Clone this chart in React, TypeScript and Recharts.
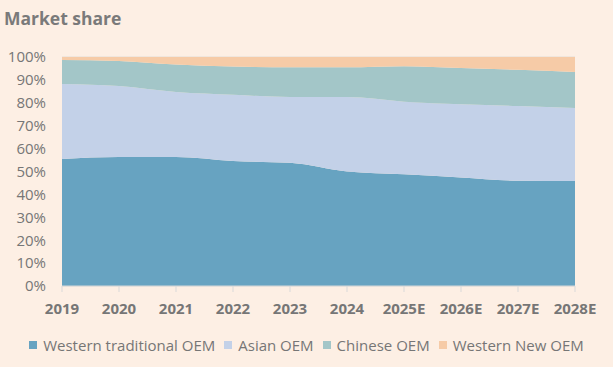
import { AreaChart, Area, XAxis, YAxis, CartesianGrid } from 'recharts';

const years = ['2019', '2020', '2021', '2022', '2023', '2024', '2025E', '2026E', '2027E', '2028E'];

// shares in percent, stacked bottom to top
const westernTraditional = [55.5, 56.3, 56.3, 54.6, 53.8, 50.0, 48.8, 47.4, 46.0, 45.9];
const asian = [32.7, 31.0, 28.4, 28.9, 28.7, 32.5, 31.7, 32.0, 32.6, 31.8];
const chinese = [10.5, 11.0, 12.0, 12.3, 13.0, 13.0, 15.5, 15.8, 15.8, 15.7];
const westernNew = [1.3, 1.7, 3.3, 4.2, 4.5, 4.5, 4.0, 4.8, 5.6, 6.6];

const yTicks = [0, 10, 20, 30, 40, 50, 60, 70, 80, 90, 100];

const series = [
  { key: 'western', name: 'Western traditional OEM', color: '#67a3c1' },
  { key: 'asian', name: 'Asian OEM', color: '#c3d1e8' },
  { key: 'chinese', name: 'Chinese OEM', color: '#a3c6c8' },
  { key: 'westernNew', name: 'Western New OEM', color: '#f6cba7' },
];

const data = years.map((year, i) => ({
  year,
  western: westernTraditional[i],
  asian: asian[i],
  chinese: chinese[i],
  westernNew: westernNew[i],
}));

const FONT = '"Open Sans", "Noto Sans", sans-serif';
const TEXT = '#767676';

export default function App() {
  return (
    <div
      style={{
        position: 'absolute',
        left: 0,
        top: 0,
        width: 613,
        height: 367,
        background: '#fdefe4',
        fontFamily: FONT,
      }}
    >
      <div
        style={{
          position: 'absolute',
          left: 4,
          top: 6,
          fontSize: 17.5,
          fontWeight: 700,
          color: '#7a7a7a',
        }}
      >
        Market share
      </div>
      <AreaChart
        width={613}
        height={367}
        data={data}
        margin={{ top: 57, right: 38, left: 0, bottom: 51 }}
      >
        <CartesianGrid vertical={false} stroke="#e2dcd6" />
        <XAxis
          dataKey="year"
          axisLine={{ stroke: '#d9d9d9' }}
          tickLine={{ stroke: '#d9d9d9' }}
          tickSize={6}
          tickMargin={11}
          height={30}
          interval={0}
          tick={{ fill: TEXT, fontSize: 15, fontWeight: 700, fontFamily: FONT }}
        />
        <YAxis
          domain={[0, 100]}
          ticks={yTicks}
          interval={0}
          tickFormatter={(v) => `${v}%`}
          axisLine={false}
          tickLine={false}
          tickSize={6}
          tickMargin={10}
          width={62}
          tick={{ fill: TEXT, fontSize: 15, fontFamily: FONT }}
        />
        {series.map((s) => (
          <Area
            key={s.key}
            type="monotone"
            dataKey={s.key}
            name={s.name}
            stackId="1"
            stroke="none"
            fill={s.color}
            fillOpacity={1}
            isAnimationActive={false}
          />
        ))}
      </AreaChart>
      <div
        style={{
          position: 'absolute',
          left: 0,
          width: 613,
          top: 334,
          display: 'flex',
          justifyContent: 'center',
          paddingLeft: 9,
          boxSizing: 'border-box',
          fontSize: 15,
          color: TEXT,
          lineHeight: '22px',
        }}
      >
        {series.map((s) => (
          <div key={s.key} style={{ display: 'flex', alignItems: 'center', marginRight: 9 }}>
            <span style={{ width: 8, height: 8, background: s.color, marginRight: 6 }} />
            <span>{s.name}</span>
          </div>
        ))}
      </div>
    </div>
  );
}
